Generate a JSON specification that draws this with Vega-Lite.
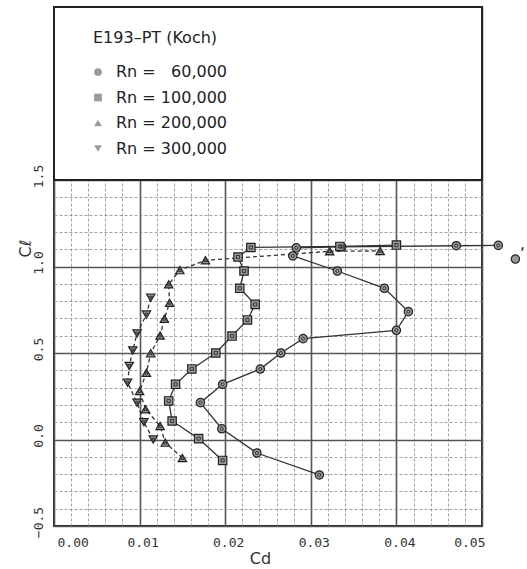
{
  "$schema": "https://vega.github.io/schema/vega-lite/v6.json",
  "padding": {"left": 17, "top": 6, "right": 5, "bottom": 0},
  "background": "white",
  "width": 428,
  "height": 519,
  "config": {
    "view": {"stroke": "#222", "strokeWidth": 2},
    "font": "DejaVu Sans"
  },
  "datasets": {
    "polar": [
      {"Rn": "Rn = \u200760,000", "Cd": 0.0310, "Cl": -0.205},
      {"Rn": "Rn = \u200760,000", "Cd": 0.0237, "Cl": -0.078},
      {"Rn": "Rn = \u200760,000", "Cd": 0.0196, "Cl": 0.062},
      {"Rn": "Rn = \u200760,000", "Cd": 0.0171, "Cl": 0.213},
      {"Rn": "Rn = \u200760,000", "Cd": 0.0197, "Cl": 0.319},
      {"Rn": "Rn = \u200760,000", "Cd": 0.0241, "Cl": 0.407},
      {"Rn": "Rn = \u200760,000", "Cd": 0.0265, "Cl": 0.500},
      {"Rn": "Rn = \u200760,000", "Cd": 0.0291, "Cl": 0.583},
      {"Rn": "Rn = \u200760,000", "Cd": 0.0400, "Cl": 0.631},
      {"Rn": "Rn = \u200760,000", "Cd": 0.0414, "Cl": 0.739},
      {"Rn": "Rn = \u200760,000", "Cd": 0.0386, "Cl": 0.874},
      {"Rn": "Rn = \u200760,000", "Cd": 0.0331, "Cl": 0.974},
      {"Rn": "Rn = \u200760,000", "Cd": 0.0279, "Cl": 1.061},
      {"Rn": "Rn = \u200760,000", "Cd": 0.0283, "Cl": 1.108},
      {"Rn": "Rn = \u200760,000", "Cd": 0.0336, "Cl": 1.114},
      {"Rn": "Rn = \u200760,000", "Cd": 0.0470, "Cl": 1.120},
      {"Rn": "Rn = \u200760,000", "Cd": 0.0519, "Cl": 1.122},
      {"Rn": "Rn = 100,000", "Cd": 0.0197, "Cl": -0.121},
      {"Rn": "Rn = 100,000", "Cd": 0.0169, "Cl": 0.005},
      {"Rn": "Rn = 100,000", "Cd": 0.0138, "Cl": 0.107},
      {"Rn": "Rn = 100,000", "Cd": 0.0134, "Cl": 0.223},
      {"Rn": "Rn = 100,000", "Cd": 0.0142, "Cl": 0.319},
      {"Rn": "Rn = 100,000", "Cd": 0.0161, "Cl": 0.408},
      {"Rn": "Rn = 100,000", "Cd": 0.0189, "Cl": 0.500},
      {"Rn": "Rn = 100,000", "Cd": 0.0208, "Cl": 0.598},
      {"Rn": "Rn = 100,000", "Cd": 0.0226, "Cl": 0.691},
      {"Rn": "Rn = 100,000", "Cd": 0.0235, "Cl": 0.781},
      {"Rn": "Rn = 100,000", "Cd": 0.0217, "Cl": 0.874},
      {"Rn": "Rn = 100,000", "Cd": 0.0222, "Cl": 0.974},
      {"Rn": "Rn = 100,000", "Cd": 0.0215, "Cl": 1.055},
      {"Rn": "Rn = 100,000", "Cd": 0.0230, "Cl": 1.110},
      {"Rn": "Rn = 100,000", "Cd": 0.0334, "Cl": 1.116},
      {"Rn": "Rn = 100,000", "Cd": 0.0400, "Cl": 1.124},
      {"Rn": "Rn = 200,000", "Cd": 0.0150, "Cl": -0.107},
      {"Rn": "Rn = 200,000", "Cd": 0.0130, "Cl": -0.018},
      {"Rn": "Rn = 200,000", "Cd": 0.0124, "Cl": 0.078},
      {"Rn": "Rn = 200,000", "Cd": 0.0107, "Cl": 0.175},
      {"Rn": "Rn = 200,000", "Cd": 0.0100, "Cl": 0.280},
      {"Rn": "Rn = 200,000", "Cd": 0.0108, "Cl": 0.386},
      {"Rn": "Rn = 200,000", "Cd": 0.0113, "Cl": 0.499},
      {"Rn": "Rn = 200,000", "Cd": 0.0124, "Cl": 0.601},
      {"Rn": "Rn = 200,000", "Cd": 0.0129, "Cl": 0.698},
      {"Rn": "Rn = 200,000", "Cd": 0.0135, "Cl": 0.790},
      {"Rn": "Rn = 200,000", "Cd": 0.0134, "Cl": 0.897},
      {"Rn": "Rn = 200,000", "Cd": 0.0147, "Cl": 0.979},
      {"Rn": "Rn = 200,000", "Cd": 0.0177, "Cl": 1.036},
      {"Rn": "Rn = 200,000", "Cd": 0.0322, "Cl": 1.088},
      {"Rn": "Rn = 200,000", "Cd": 0.0381, "Cl": 1.090},
      {"Rn": "Rn = 300,000", "Cd": 0.0116, "Cl": 0.000},
      {"Rn": "Rn = 300,000", "Cd": 0.0105, "Cl": 0.100},
      {"Rn": "Rn = 300,000", "Cd": 0.0097, "Cl": 0.213},
      {"Rn": "Rn = 300,000", "Cd": 0.0086, "Cl": 0.328},
      {"Rn": "Rn = 300,000", "Cd": 0.0088, "Cl": 0.425},
      {"Rn": "Rn = 300,000", "Cd": 0.0092, "Cl": 0.515},
      {"Rn": "Rn = 300,000", "Cd": 0.0097, "Cl": 0.613},
      {"Rn": "Rn = 300,000", "Cd": 0.0108, "Cl": 0.722},
      {"Rn": "Rn = 300,000", "Cd": 0.0113, "Cl": 0.820}
    ],
    "flagged": [
      {"Rn": "Rn = \u200760,000", "Cd": 0.0539, "Cl": 1.043}
    ]
  },
  "layer": [
    {
      "data": {"values": [{"x0": 0, "x1": 0.05, "y0": 1.5, "y1": 2.5}]},
      "mark": {"type": "rect", "fill": "white", "stroke": "#222", "strokeWidth": 2},
      "encoding": {
        "x": {"field": "x0", "type": "quantitative", "scale": {"domain": [0, 0.05], "nice": false, "zero": false},
          "axis": {"orient": "top", "values": [0.002,0.004,0.006,0.008,0.012,0.014,0.016,0.018,0.022,0.024,0.026,0.028,0.032,0.034,0.036,0.038,0.042,0.044,0.046,0.048],
            "labels": false, "ticks": false, "domain": false, "title": null, "minExtent": 0, "maxExtent": 0,
            "grid": true, "gridColor": "#8a8a8a", "gridDash": [3, 2], "gridWidth": 0.8}},
        "x2": {"field": "x1"},
        "y": {"field": "y0", "type": "quantitative", "scale": {"domain": [-0.5, 2.5], "nice": false, "zero": false},
          "axis": {"orient": "right", "values": [-0.4,-0.3,-0.2,-0.1,0.1,0.2,0.3,0.4,0.6,0.7,0.8,0.9,1.1,1.2,1.3,1.4],
            "labels": false, "ticks": false, "domain": false, "title": null, "minExtent": 0, "maxExtent": 0,
            "grid": true, "gridColor": "#8a8a8a", "gridDash": [3, 2], "gridWidth": 0.8}},
        "y2": {"field": "y1"}
      }
    },
    {
      "data": {"name": "polar"},
      "transform": [{"filter": {"field": "Rn", "oneOf": ["Rn = \u200760,000", "Rn = 100,000"]}}],
      "mark": {"type": "line", "stroke": "#333", "strokeWidth": 1.3},
      "encoding": {
        "x": {"field": "Cd", "type": "quantitative", "axis": null},
        "y": {"field": "Cl", "type": "quantitative", "axis": null},
        "detail": {"field": "Rn"},
        "order": {"field": "Cl", "type": "quantitative"}
      }
    },
    {
      "data": {"name": "polar"},
      "transform": [{"filter": {"field": "Rn", "oneOf": ["Rn = 200,000", "Rn = 300,000"]}}],
      "mark": {"type": "line", "stroke": "#333", "strokeWidth": 1.3, "strokeDash": [4, 3]},
      "encoding": {
        "x": {"field": "Cd", "type": "quantitative", "axis": null},
        "y": {"field": "Cl", "type": "quantitative", "axis": null},
        "detail": {"field": "Rn"},
        "order": {"field": "Cl", "type": "quantitative"}
      }
    },
    {
      "data": {"name": "polar"},
      "mark": {"type": "point", "filled": true, "fill": "#9a9a9a", "stroke": "#222", "strokeWidth": 1.2, "size": 70, "opacity": 1},
      "encoding": {
        "x": {"field": "Cd", "type": "quantitative",
          "axis": {"orient": "bottom", "values": [0, 0.01, 0.02, 0.03, 0.04, 0.05], "format": ".2f",
            "grid": true, "gridColor": "#555", "gridWidth": 1.6, "domain": false, "ticks": false,
            "labelFont": "DejaVu Sans Mono", "labelFontSize": 13, "labelColor": "#333", "labelPadding": 10, "labelOffset": 3,
            "title": "Cd", "titleFont": "DejaVu Sans", "titleFontSize": 16, "titleFontWeight": "normal", "titleColor": "#333",
            "titleX": 206, "titleY": 32, "titleBaseline": "middle", "titleAlign": "center"}},
        "y": {"field": "Cl", "type": "quantitative",
          "axis": {"orient": "left", "values": [-0.5, 0, 0.5, 1, 1.5], "format": ".1f",
            "grid": true, "gridColor": "#555", "gridWidth": 1.6, "domain": false, "ticks": false,
            "labelFont": "DejaVu Sans Mono", "labelFontSize": 13, "labelColor": "#333", "labelPadding": 9, "labelAngle": -90, "labelOffset": -4,
            "title": "Cℓ", "titleFont": "DejaVu Sans", "titleFontSize": 16, "titleFontWeight": "normal", "titleColor": "#333",
            "titleX": -29, "titleY": 241, "titleBaseline": "middle", "titleAlign": "center"}},
        "shape": {"field": "Rn", "type": "nominal",
          "scale": {"domain": ["Rn = \u200760,000", "Rn = 100,000", "Rn = 200,000", "Rn = 300,000"],
            "range": ["circle", "square", "triangle-up", "triangle-down"]},
          "legend": {"orient": "none", "legendX": 39, "legendY": 23, "title": "E193–PT (Koch)",
            "titleFont": "DejaVu Sans", "titleFontSize": 16, "titleFontWeight": "normal", "titleColor": "#222", "titlePadding": 18,
            "labelFont": "DejaVu Sans", "labelFontSize": 16, "labelColor": "#222", "rowPadding": 9.5,
            "symbolSize": 60, "symbolFillColor": "#9a9a9a", "symbolStrokeColor": "#222", "symbolStrokeWidth": 1.4,
            "symbolOffset": -3, "labelOffset": 10,
            "encode": {"symbols": {"update": {"fill": {"value": "#9a9a9a"}, "stroke": {"value": "#222"}, "strokeWidth": {"value": 1.4}, "opacity": {"value": 1}}}}}}
      }
    },
    {
      "data": {"name": "polar"},
      "mark": {"type": "point", "filled": false, "stroke": "#333", "strokeWidth": 1, "size": 10, "opacity": 1},
      "encoding": {
        "x": {"field": "Cd", "type": "quantitative", "axis": null},
        "y": {"field": "Cl", "type": "quantitative", "axis": null},
        "shape": {"field": "Rn", "type": "nominal", "legend": null}
      }
    },
    {
      "data": {"name": "flagged"},
      "mark": {"type": "point", "shape": "circle", "filled": true, "fill": "#9a9a9a", "stroke": "#222", "strokeWidth": 1.2, "size": 70, "opacity": 1},
      "encoding": {
        "x": {"field": "Cd", "type": "quantitative", "axis": null},
        "y": {"field": "Cl", "type": "quantitative", "axis": null}
      }
    },
    {
      "data": {"name": "flagged"},
      "mark": {"type": "text", "text": "ʼ", "fontSize": 16, "dx": 7, "dy": -5, "color": "#222"},
      "encoding": {
        "x": {"field": "Cd", "type": "quantitative", "axis": null},
        "y": {"field": "Cl", "type": "quantitative", "axis": null}
      }
    }
  ],
  "resolve": {"axis": {"x": "independent", "y": "independent"}, "legend": {"shape": "independent"}}
}
